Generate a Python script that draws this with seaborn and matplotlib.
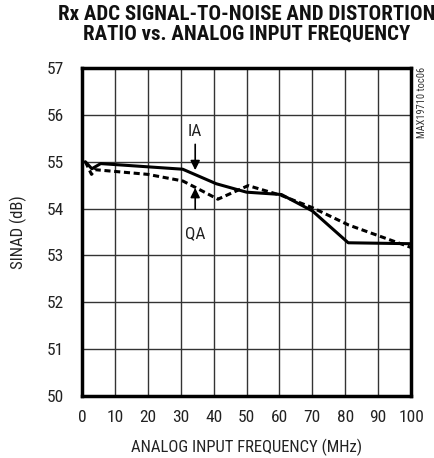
import matplotlib
matplotlib.use('Agg')
import matplotlib.pyplot as plt
import seaborn as sns
import pandas as pd

# Rx ADC SINAD vs analog input frequency
ia_freq = [1, 3, 5.7, 30.6, 40.8, 50, 60.6, 70, 80.9, 100]
ia_sinad = [55.0, 54.85, 54.96, 54.84, 54.53, 54.35, 54.3, 53.95, 53.27, 53.25]

qa_freq = [1, 2.9, 4, 20, 30.6, 34.5, 41.3, 50.5, 60.6, 70, 81, 100]
qa_sinad = [55.0, 54.73, 54.83, 54.73, 54.59, 54.45, 54.2, 54.49, 54.28, 54.02, 53.65, 53.17]

x_ticks = list(range(0, 101, 10))
y_ticks = list(range(50, 58))

FONT = ['Roboto Condensed', 'Archivo Narrow', 'PT Sans Narrow', 'Liberation Sans Narrow',
        'Sofia Sans Condensed', 'DejaVu Sans']
TITLE_FONT = ['Roboto Condensed', 'Barlow Condensed', 'Archivo Narrow', 'Saira SemiCondensed',
              'DejaVu Sans']

sns.set_style('white')
plt.rcParams['font.family'] = FONT

ia = pd.DataFrame({'freq': ia_freq, 'sinad': ia_sinad})
qa = pd.DataFrame({'freq': qa_freq, 'sinad': qa_sinad})

fig = plt.figure(figsize=(4.35, 4.58), dpi=100)
ax = fig.add_axes([0.1885, 0.1354, 0.7565, 0.7161])

sns.lineplot(data=ia, x='freq', y='sinad', ax=ax, color='black',
             linewidth=2.2, sort=False, estimator=None)
sns.lineplot(data=qa, x='freq', y='sinad', ax=ax, color='black',
             linewidth=2.2, linestyle=(0, (2.0, 1.2)), sort=False, estimator=None)

ax.set_xlim(0, 100)
ax.set_ylim(50, 57)
ax.set_xticks(x_ticks)
ax.set_yticks(y_ticks)
ax.grid(True, color='#333333', linewidth=1.0)
for s in ax.spines.values():
    s.set_linewidth(2.5)
    s.set_color('black')
ax.tick_params(axis='both', labelsize=12.5, length=0, colors='#222222')
ax.tick_params(axis='x', pad=10)
ax.tick_params(axis='y', pad=13)

ax.set_xlabel('ANALOG INPUT FREQUENCY (MHz)', fontsize=12, color='#222222', labelpad=10)
ax.set_ylabel('SINAD (dB)', fontsize=12, color='#222222', labelpad=14)

fig.text(0.567, 0.99, 'Rx ADC SIGNAL-TO-NOISE AND DISTORTION\nRATIO vs. ANALOG INPUT FREQUENCY',
         ha='center', va='top', fontsize=15, fontweight='bold', linespacing=1.05,
         family=TITLE_FONT, color='#111111')

# curve labels with arrows
ax.annotate('', xy=(34.4, 54.76), xytext=(34.4, 55.43),
            arrowprops=dict(arrowstyle='-|>', color='black', lw=1.2, mutation_scale=14))
ax.text(34.4, 55.48, 'IA', ha='center', va='bottom', fontsize=12.5, color='#222222')
ax.annotate('', xy=(34.4, 54.5), xytext=(34.4, 53.93),
            arrowprops=dict(arrowstyle='-|>', color='black', lw=1.2, mutation_scale=14))
ax.text(34.4, 53.62, 'QA', ha='center', va='top', fontsize=12.5, color='#222222')

fig.text(0.958, 0.855, 'MAX19710 toc06', rotation=90, ha='left', va='top',
         fontsize=7.5, color='#333333')

fig.savefig('out.png', dpi=100)
